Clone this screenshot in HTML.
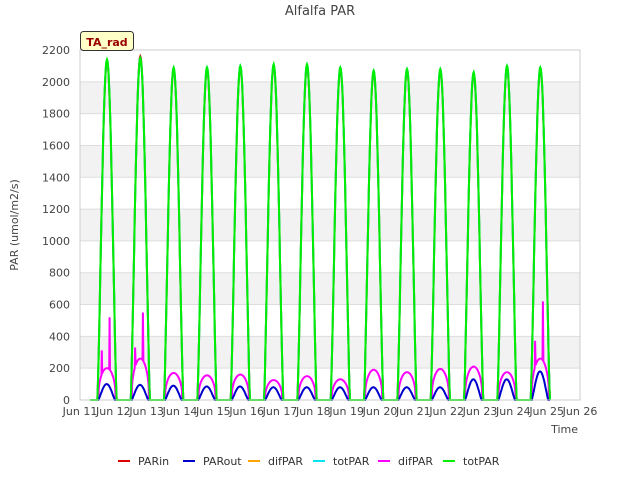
<!DOCTYPE html>
<html><head><meta charset="utf-8"><style>
body{margin:0;background:#fff;font-family:"Liberation Sans","DejaVu Sans",sans-serif}
svg text{font-family:"DejaVu Sans","Liberation Sans",sans-serif}
</style></head><body>
<svg id="c" width="640" height="480" viewBox="0 0 640 480">
<text x="320" y="15" text-anchor="middle" font-size="13" fill="#444">Alfalfa PAR</text>
<g id="grid"></g>
<g id="series"></g>
<g id="axes"></g>
<rect x="80.5" y="31.5" width="53" height="19" rx="3" fill="#ffffc8" stroke="#333"/>
<text x="107" y="46" text-anchor="middle" font-size="11" font-weight="bold" fill="#900">TA_rad</text>
<text transform="translate(18,225) rotate(-90)" text-anchor="middle" font-size="11" fill="#444">PAR (umol/m2/s)</text>
<text x="578" y="433" text-anchor="end" font-size="11" fill="#444">Time</text>
<g id="legend"></g>
</svg>
<script>
const dayLabels=["Jun 11","Jun 12","Jun 13","Jun 14","Jun 15","Jun 16","Jun 17","Jun 18","Jun 19","Jun 20","Jun 21","Jun 22","Jun 23","Jun 24","Jun 25","Jun 26"];
const yTicks=[0,200,400,600,800,1000,1200,1400,1600,1800,2000,2200];
const totPeak=[2140,2150,2090,2090,2100,2110,2110,2090,2070,2080,2080,2060,2100,2090];
const parInPeak=[2130,2160,2080,2080,2090,2100,2100,2080,2060,2070,2070,2050,2090,2080];
const difPeak=[200,260,170,155,160,125,150,130,190,175,195,210,175,260];
const difSpike=[520,550,0,0,0,0,0,0,0,0,0,0,0,620];
const outPeak=[100,95,90,85,85,80,80,80,80,80,80,130,130,180];
const seriesNames=["PARin","PARout","difPAR","totPAR","difPAR","totPAR"];
const seriesColors=["#dd0000","#0000cc","#ffa500","#00e5ee","#ff00ff","#00ee00"];
const X0=80,X1=580,Y0=400,Y1=50;
const xs=d=>X0+(d)/15*(X1-X0);
const ys=v=>Y0-v/2200*(Y0-Y1);
const NS="http://www.w3.org/2000/svg";
function mk(tag,attrs,parent){const e=document.createElementNS(NS,tag);for(const k in attrs)e.setAttribute(k,attrs[k]);parent.appendChild(e);return e;}
const grid=document.getElementById('grid'),axes=document.getElementById('axes'),ser=document.getElementById('series'),leg=document.getElementById('legend');
for(let i=1;i<yTicks.length-1;i+=2){
  const r=mk('rect',{x:X0,y:ys(yTicks[i]+200),width:X1-X0,height:ys(yTicks[i])-ys(yTicks[i]+200),fill:'#f2f2f2'},grid);
  
  
}
yTicks.forEach(v=>{
  const l=mk('line',{x1:X0,x2:X1,y1:ys(v),y2:ys(v),stroke:'#dddddd'},grid);
  
  
  const t=mk('text',{x:X0-10,y:ys(v)+4,'text-anchor':'end','font-size':11,fill:'#444'},axes);
  t.textContent=v;
  
  
});
const fr=mk('rect',{x:X0,y:Y1,width:X1-X0,height:Y0-Y1,fill:'none',stroke:'#cccccc'},axes);


dayLabels.forEach((s,i)=>{
  const t=mk('text',{x:xs(i),y:415,'text-anchor':'middle','font-size':11,fill:'#444'},axes);
  t.textContent=s;
  
  
});
function curve(peaks,pow,s,e,spikes){
  let pts=[[xs(0.3),ys(0)]];
  peaks.forEach((p,d)=>{
    for(let k=0;k<=40;k++){const f=k/40;const t=d+s+f*(e-s);
      let v=p*Math.pow(Math.sin(Math.PI*f),pow);
      if(spikes&&spikes[d]&&(k===8||k===26))v=spikes[d]*(k===8?0.6:1);
      pts.push([xs(t),ys(v)]);}
  });
  pts.push([xs(peaks.length+0.1),ys(0)]);
  return pts.map((p,i)=>(i?'L':'M')+p[0].toFixed(1)+','+p[1].toFixed(1)).join('');
}
const defs=[[parInPeak,1.3,0.52,1.1,0,null],[totPeak,1.3,0.52,1.1,3,null],[difPeak,0.4,0.55,1.07,4,difSpike],[outPeak,1.2,0.55,1.05,1,null],[totPeak,1.3,0.52,1.1,5,null]];
defs.forEach(([pk,pw,s,e,ci,sp])=>{
  const p=mk('path',{d:curve(pk,pw,s,e,sp),fill:'none',stroke:seriesColors[ci],'stroke-width':2},ser);
  
  
});
seriesNames.forEach((n,i)=>{
  const x=118+i*65;
  const l=mk('line',{x1:x,x2:x+12,y1:461,y2:461,stroke:seriesColors[i],'stroke-width':2},leg);
  
  
  const t=mk('text',{x:x+20,y:465,'font-size':11,fill:'#333'},leg);
  t.textContent=n;
  
  
});
</script>
</body></html>
